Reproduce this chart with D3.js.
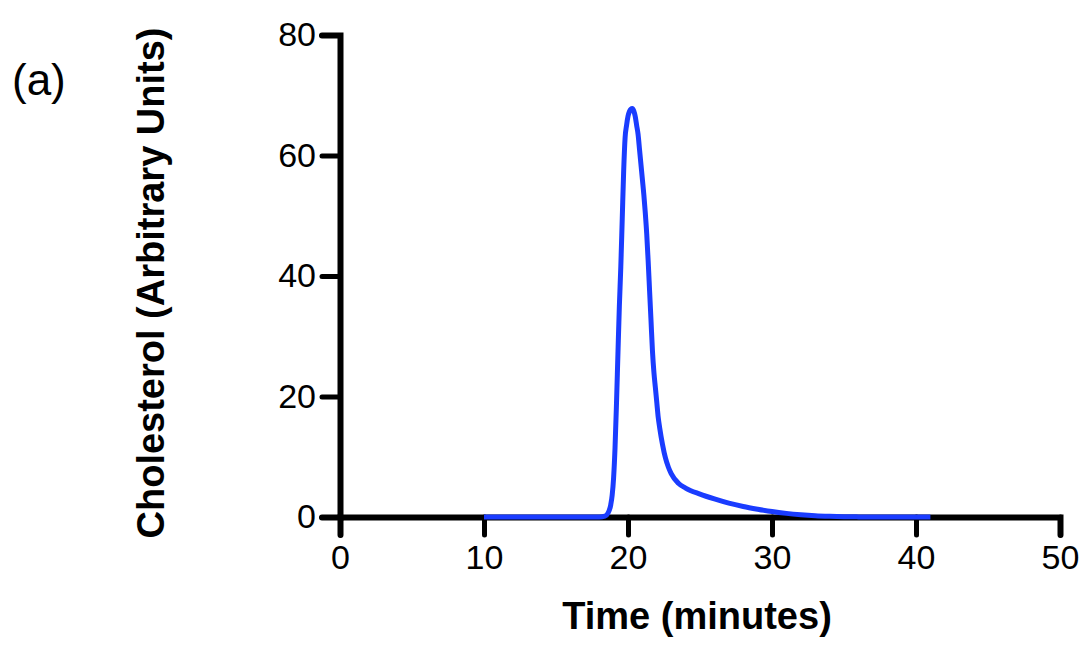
<!DOCTYPE html>
<html>
<head>
<meta charset="utf-8">
<script src="https://cdn.jsdelivr.net/npm/d3@7"></script>
<style>
  body { margin: 0; background: #fff; }
  text { font-family: "Liberation Sans", Arial, sans-serif; }
</style>
</head>
<body>
<svg id="chart" width="1086" height="645"></svg>
<script>
// time (minutes) and cholesterol values
const timeMin = [10, 14, 17, 18, 18.4, 18.6, 18.8, 18.9, 19.0, 19.1, 19.2, 19.3, 19.4, 19.5, 19.6, 19.7,
  19.8, 19.9, 20.0, 20.1, 20.2, 20.3, 20.4, 20.5, 20.6, 20.7, 20.8, 20.9, 21.0, 21.1, 21.2, 21.3,
  21.4, 21.5, 21.6, 21.7, 21.8, 21.9, 22.0, 22.1, 22.2, 22.4, 22.6, 22.8, 23.0, 23.5, 24, 25, 26, 27,
  28, 29, 30, 31, 32, 33, 34, 35, 36, 38, 41];
const cholesterol = [0, 0, 0, 0, 0.15, 0.6, 2.0, 3.6, 6.5, 11.5, 18.8, 27, 35, 41.5, 49.5, 57.5,
  63, 65, 66.5, 67.3, 67.7, 67.8, 67.4, 66.5, 65, 63.5, 61, 58.5, 56, 53.5, 50.5, 47,
  42.5, 37.5, 32.5, 27.5, 24, 21.5, 19, 16.5, 14.8, 12, 9.8, 8.3, 7.2, 5.6, 4.8, 3.8, 3.0, 2.3,
  1.75, 1.3, 0.9, 0.6, 0.38, 0.22, 0.12, 0.05, 0.02, 0, 0];
const xTicks = [0, 10, 20, 30, 40, 50];
const yTicks = [0, 20, 40, 60, 80];

const svg = d3.select("#chart");
const data = timeMin.map((t, i) => ({t: t, c: cholesterol[i]}));

const x = d3.scaleLinear().domain([0, 50]).range([340, 1060]);
const y = d3.scaleLinear().domain([0, 80]).range([517, 35]);

function styleAxis(g) {
    g.select(".domain").attr("stroke", "#000").attr("stroke-width", 6).attr("stroke-linecap", "round");
    g.selectAll(".tick line").attr("stroke", "#000").attr("stroke-width", 5).attr("stroke-linecap", "round");
    g.selectAll(".tick text").attr("font-size", 34).attr("fill", "#000")
        .style("font-family", "'Liberation Sans', Arial, sans-serif");
}

const xAxisG = svg.append("g")
    .attr("transform", "translate(0," + y(0) + ")")
    .call(d3.axisBottom(x).tickValues(xTicks).tickSize(18).tickSizeOuter(18).tickPadding(10));
styleAxis(xAxisG);

const yAxisG = svg.append("g")
    .attr("transform", "translate(" + x(0) + ",0)")
    .call(d3.axisLeft(y).tickValues(yTicks).tickSize(18).tickSizeOuter(18).tickPadding(6));
styleAxis(yAxisG);

// the trace
svg.append("path")
    .datum(data)
    .attr("fill", "none")
    .attr("stroke", "#1a3cff")
    .attr("stroke-width", 5)
    .attr("stroke-linejoin", "round")
    .attr("d", d3.line().x(d => x(d.t)).y(d => y(d.c)).curve(d3.curveMonotoneX));

svg.append("text")
    .attr("x", 697).attr("y", 629)
    .attr("text-anchor", "middle")
    .attr("font-size", 38).attr("font-weight", "bold")
    .text("Time (minutes)");

svg.append("text")
    .attr("transform", "translate(164,283) rotate(-90)")
    .attr("text-anchor", "middle")
    .attr("font-size", 38).attr("font-weight", "bold")
    .text("Cholesterol (Arbitrary Units)");

svg.append("text")
    .attr("x", 12).attr("y", 95)
    .attr("font-size", 44)
    .text("(a)");
</script>
</body>
</html>
